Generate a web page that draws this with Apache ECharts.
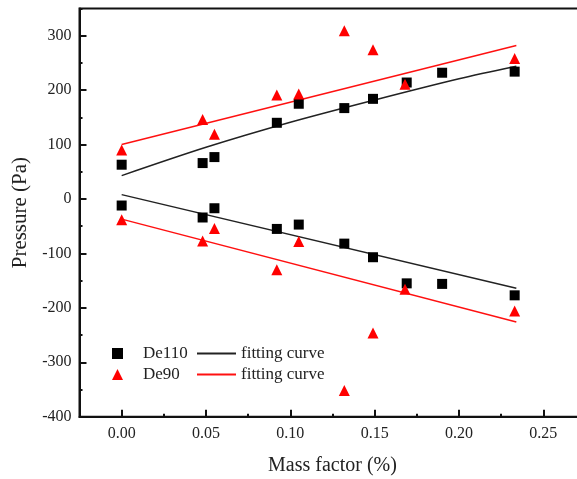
<!DOCTYPE html>
<html>
<head>
<meta charset="utf-8">
<script src="https://cdn.jsdelivr.net/npm/echarts@6/dist/echarts.min.js"></script>
<style>html,body{margin:0;padding:0;background:#fff;}#c{width:577px;height:479px;}</style>
</head>
<body>
<div id="c"></div>
<script>
// ---- data ----
const massFactor110 = [0, 0.048, 0.055, 0.092, 0.105, 0.132, 0.149, 0.169, 0.19, 0.233];
const de110Upper = [63, 66, 77, 140, 175, 167, 184, 214, 232, 234];
const de110Lower = [-12, -34, -17, -55, -47, -82, -107, -155, -156, -177];

const massFactor90 = [0, 0.048, 0.055, 0.092, 0.105, 0.132, 0.149, 0.168, 0.233];
const de90Upper = [90, 146, 119, 191, 193, 309, 274, 211, 258];
const de90Lower = [-38, -77, -54, -130, -78, -352, -246, -166, -206];

const fit110UpperX = [0, 0.05, 0.1, 0.15, 0.2, 0.234];
const fit110Upper = [43, 95, 141, 182, 221, 244];
const fit110LowerX = [0, 0.234];
const fit110Lower = [8, -164];
const fit90UpperX = [0, 0.234];
const fit90Upper = [100, 282];
const fit90LowerX = [0, 0.234];
const fit90Lower = [-37, -226];

function pairs(xs, ys) { return xs.map((x, i) => [x, ys[i]]); }

const FONT = 'Liberation Serif';
const chart = echarts.init(document.getElementById('c'));
const isMult = (v, s) => Math.abs(v / s - Math.round(v / s)) < 1e-6;

// plot geometry (pixels)
const PL = 79.5, PT = 8.5, PW = 506, PH = 408.2;
const PXU = PW / 0.3;          // px per x unit
const PYU = PH / 750;          // px per y unit

const tickStyle = { color: '#111', width: 2 };

chart.setOption({
  animation: false,
  backgroundColor: '#fff',
  grid: [
    { left: PL, top: PT, width: PW, height: PH, outerBoundsMode: 'none', containLabel: false,
      show: true, borderColor: '#111', borderWidth: 2, backgroundColor: 'transparent' },
    { left: PL + 0.025 * PXU, top: PT, width: 0.25 * PXU, height: PH, outerBoundsMode: 'none', containLabel: false },
    { left: PL, top: PT + 50 * PYU, width: PW, height: 700 * PYU, outerBoundsMode: 'none', containLabel: false }
  ],
  xAxis: [{
    gridIndex: 0, type: 'value', min: -0.025, max: 0.275, interval: 0.025,
    splitLine: { show: false },
    axisLine: { show: true, onZero: false, lineStyle: { color: '#111', width: 2 } },
    axisTick: { show: true, inside: true, length: 3, lineStyle: tickStyle },
    axisLabel: {
      color: '#222', fontFamily: FONT, fontSize: 16, margin: 9,
      formatter: v => (isMult(v, 0.05) && v >= 0 && v <= 0.25 + 1e-9) ? v.toFixed(2) : ''
    },
    name: 'Mass factor (%)', nameLocation: 'middle', nameGap: 39,
    nameTextStyle: { color: '#222', fontFamily: FONT, fontSize: 20 }
  }, {
    gridIndex: 1, type: 'value', min: 0, max: 0.25, interval: 0.05,
    splitLine: { show: false },
    axisLine: { show: false, onZero: false },
    axisTick: { show: true, inside: true, length: 7, lineStyle: tickStyle },
    axisLabel: { show: false }
  }, {
    gridIndex: 2, show: false, type: 'value', min: 0, max: 1
  }],
  yAxis: [{
    gridIndex: 0, type: 'value', min: -400, max: 350, interval: 50,
    splitLine: { show: false },
    axisLine: { show: true, onZero: false, lineStyle: { color: '#111', width: 2 } },
    axisTick: { show: true, inside: true, length: 3, lineStyle: tickStyle },
    axisLabel: {
      color: '#222', fontFamily: FONT, fontSize: 16, margin: 8,
      formatter: v => (isMult(v, 100) && v <= 300) ? String(v) : ''
    },
    name: 'Pressure (Pa)', nameLocation: 'middle', nameGap: 46, nameRotate: 90,
    nameTextStyle: { color: '#222', fontFamily: FONT, fontSize: 21 }
  }, {
    gridIndex: 1, show: false, type: 'value', min: 0, max: 1
  }, {
    gridIndex: 2, type: 'value', min: -400, max: 300, interval: 100,
    splitLine: { show: false },
    axisLine: { show: false, onZero: false },
    axisTick: { show: true, inside: true, length: 7, lineStyle: tickStyle },
    axisLabel: { show: false }
  }],
  legend: [{
    left: 107, top: 340, orient: 'vertical', itemGap: 4,
    itemWidth: 11, itemHeight: 11,
    textStyle: { color: '#222', fontFamily: FONT, fontSize: 17, padding: [0, 0, 0, 15] },
    data: ['De110', 'De90']
  }, {
    left: 192, top: 340, orient: 'vertical', itemGap: 4,
    itemWidth: 39, itemHeight: 2,
    textStyle: { color: '#222', fontFamily: FONT, fontSize: 17 },
    formatter: () => 'fitting curve',
    data: [{ name: 'fit110', icon: 'rect' }, { name: 'fit90', icon: 'rect' }]
  }],
  series: [
    { name: 'fit110', type: 'line', data: pairs(fit110UpperX, fit110Upper), symbol: 'none', smooth: 0.3,
      lineStyle: { color: '#222', width: 1.5 }, itemStyle: { color: '#222' }, z: 2 },
    { name: 'fit110', type: 'line', data: pairs(fit110LowerX, fit110Lower), symbol: 'none',
      lineStyle: { color: '#222', width: 1.5 }, itemStyle: { color: '#222' }, z: 2 },
    { name: 'fit90', type: 'line', data: pairs(fit90UpperX, fit90Upper), symbol: 'none',
      lineStyle: { color: '#ff1010', width: 1.5 }, itemStyle: { color: '#ff1010' }, z: 2 },
    { name: 'fit90', type: 'line', data: pairs(fit90LowerX, fit90Lower), symbol: 'none',
      lineStyle: { color: '#ff1010', width: 1.5 }, itemStyle: { color: '#ff1010' }, z: 2 },
    { name: 'De110', type: 'scatter', symbol: 'rect', symbolSize: 10,
      itemStyle: { color: '#000', opacity: 1 }, z: 3,
      data: pairs(massFactor110, de110Upper).concat(pairs(massFactor110, de110Lower)) },
    { name: 'De90', type: 'scatter', symbol: 'triangle', symbolSize: 11,
      itemStyle: { color: '#ff0000', opacity: 1 }, z: 4,
      data: pairs(massFactor90, de90Upper).concat(pairs(massFactor90, de90Lower)) }
  ]
});
</script>
</body>
</html>
